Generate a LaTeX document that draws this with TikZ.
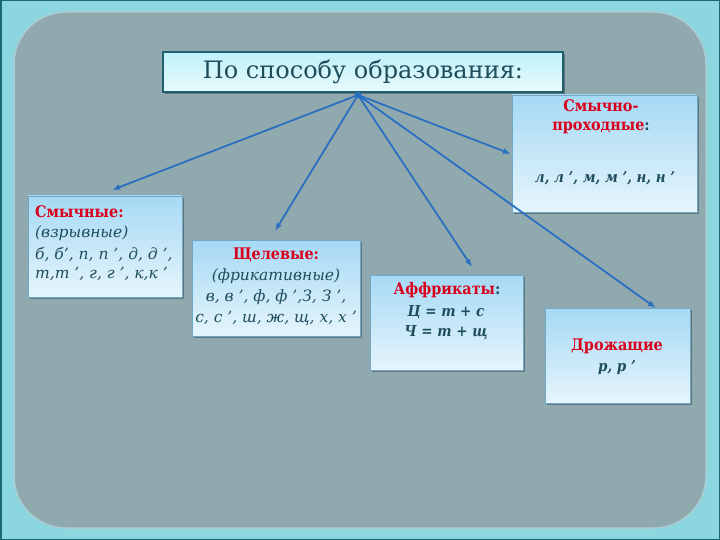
\documentclass[tikz,border=0pt]{standalone}
\usepackage{fontspec}
\setmainfont{DejaVu Serif}
\newfontfamily\condserif{DejaVu Serif Condensed}
\usetikzlibrary{arrows.meta,shadows}
\definecolor{outerbg}{HTML}{8CD6DF}
\definecolor{outeredge}{HTML}{1A6A74}
\definecolor{panel}{HTML}{90A9AE}
\definecolor{panelrim}{HTML}{A9CDD2}
\definecolor{arrowblue}{HTML}{2B6FC0}
\definecolor{headred}{HTML}{D8001C}
\definecolor{bodyteal}{HTML}{1E4D5C}
\definecolor{boxtop}{HTML}{A6D9F4}
\definecolor{boxbot}{HTML}{E6F5FC}
\definecolor{boxedge}{HTML}{6FA9C6}
\definecolor{titletop}{HTML}{BFF1F8}
\definecolor{titlebot}{HTML}{E8FBFD}
\definecolor{titleedge}{HTML}{1F5F6E}
\tikzset{
  infobox/.style={rectangle, draw=boxedge, line width=0.8pt, top color=boxtop, bottom color=boxbot,
    drop shadow={shadow xshift=2pt, shadow yshift=-2pt, fill=black, opacity=0.3}, inner sep=0pt},
  titlebox/.style={rectangle, draw=titleedge, line width=1.5pt, top color=titletop, bottom color=titlebot,
    drop shadow={shadow xshift=2pt, shadow yshift=-2pt, fill=black, opacity=0.3}, inner sep=0pt},
  conn/.style={draw=arrowblue, line width=1.8pt, -{Latex[length=8pt,width=6pt]}},
  head/.style={text=headred, font=\condserif\fontsize{16}{18}\selectfont\bfseries, inner sep=0pt},
  body/.style={text=bodyteal, font=\fontsize{15.5}{18}\selectfont\itshape, inner sep=0pt},
  bodyb/.style={text=bodyteal, font=\condserif\fontsize{15}{18}\selectfont\bfseries\itshape, inner sep=0pt},
}
\begin{document}
\begin{tikzpicture}[x=1pt,y=-1pt]
\useasboundingbox (0,0) rectangle (720,540);
% background
\fill[outerbg] (0,0) rectangle (720,540);
\draw[outeredge, line width=3pt] (0,0) rectangle (720,540);
\draw[panelrim, line width=1.5pt, fill=panel, rounded corners=52pt] (14,12) rectangle (706,528);

% title
\node[titlebox, minimum width=400pt, minimum height=40pt] (title) at (363,72) {};
\node[text=bodyteal, font=\fontsize{24}{26}\selectfont, inner sep=0pt] (titletext) at (363,72) {По способу образования:};

% boxes
\node[infobox, minimum width=154pt, minimum height=101pt] (b1) at (105,246.5) {};
\node[infobox, minimum width=168pt, minimum height=96pt] (b2) at (276,288) {};
\node[infobox, minimum width=153pt, minimum height=95pt] (b3) at (446.5,322.5) {};
\node[infobox, minimum width=185pt, minimum height=117pt] (b4) at (604.5,153.5) {};
\node[infobox, minimum width=145pt, minimum height=95pt] (b5) at (617.5,355.5) {};

% box 1 text
\node[head, anchor=west] (t1a) at (35,212) {Смычные:};
\node[body, anchor=west] (t1b) at (35,233) {(взрывные)};
\node[body, anchor=west] (t1c) at (35,254) {б, б’, п, п ’, д, д ’,};
\node[body, anchor=west] (t1d) at (35,274) {т,т ’, г, г ’, к,к ’};

% box 2 text
\node[head] (t2a) at (276,255) {Щелевые:};
\node[body] (t2b) at (276,276) {(фрикативные)};
\node[body] (t2c) at (276,297) {в, в ’, ф, ф ’,З, З ’,};
\node[body] (t2d) at (276,318) {с, с ’, ш, ж, щ, х, х ’};

% box 3 text
\node[head] (t3a) at (447,290) {Аффрикаты\textcolor{bodyteal}{:}};
\node[bodyb] (t3b) at (446,312) {Ц = т + с};
\node[bodyb] (t3c) at (446,333) {Ч = т + щ};

% box 4 text
\node[head] (t4a) at (601,106) {Смычно-};
\node[head] (t4b) at (601,128) {проходные\textcolor{bodyteal}{:}};
\node[bodyb] (t4c) at (605,178) {л, л ’, м, м ’, н, н ’};

% box 5 text
\node[head] (t5a) at (617,346) {Дрожащие};
\node[bodyb] (t5b) at (617,368) {р, р ’};

% connectors
\coordinate (o) at (358,95);
\coordinate (e1) at (112,190);
\coordinate (e2) at (275,231);
\coordinate (e3) at (472,267);
\coordinate (e4) at (511,154);
\coordinate (e5) at (656,308);
\fill[arrowblue] (o) circle (3.5pt);
\draw[conn] (o) -- (e1);
\draw[conn] (o) -- (e2);
\draw[conn] (o) -- (e3);
\draw[conn] (o) -- (e4);
\draw[conn] (o) -- (e5);
\end{tikzpicture}
\end{document}
